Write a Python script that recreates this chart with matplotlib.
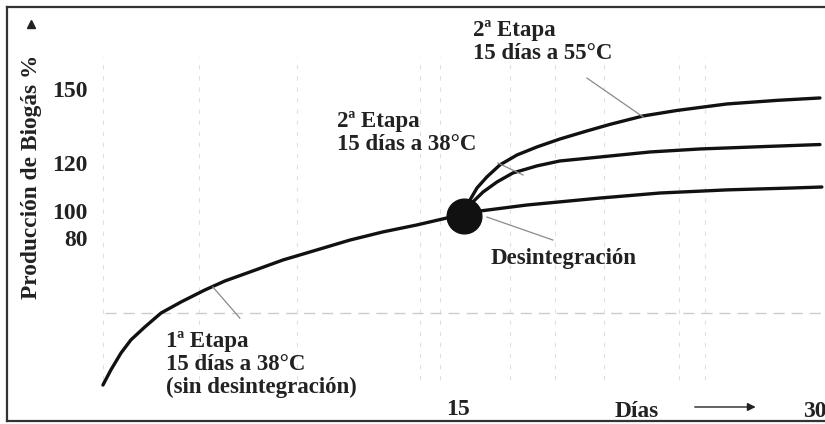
#!/usr/bin/env python3

import matplotlib as mpl
mpl.use('Agg')  # no display, just write the image
import matplotlib.pyplot as plt

#-----------------------------------------------------------------------------#
# Data (days, biogas production %)

# 1st stage, 15 days at 38 C, no disintegration
base_days = [0.0, 0.33, 0.75, 1.16, 1.74, 2.41, 3.24, 4.23, 5.06, 6.10,
             7.47, 8.88, 10.25, 11.62, 13.03, 14.27, 15.0]
base_prod = [27.9, 34.2, 41.25, 46.7, 52.1, 57.9, 62.5, 67.5, 71.25, 75.0,
             80.0, 84.2, 88.3, 91.7, 94.6, 97.5, 98.3]

# 2nd stage, 15 days at 55 C
hot_days = [15.0, 15.23, 15.52, 15.93, 16.47, 17.18, 18.01, 18.96, 20.08,
            21.04, 22.41, 23.82, 25.89, 27.97, 29.75]
hot_prod = [98.3, 105.0, 110.0, 114.6, 119.6, 123.75, 127.1, 130.4, 133.75,
            136.5, 140.0, 142.3, 145.0, 146.5, 147.5]

# 2nd stage, 15 days at 38 C
mid_days = [15.0, 15.35, 15.77, 16.35, 17.01, 18.01, 18.96, 20.62, 22.70,
            24.77, 27.55, 29.75]
mid_prod = [98.3, 104.2, 108.3, 112.5, 116.25, 119.2, 121.25, 122.9, 125.0,
            126.25, 127.3, 128.1]

# no disintegration, carried on
low_days = [15.0, 15.64, 17.59, 20.62, 23.11, 25.89, 28.63, 29.83]
low_prod = [98.3, 100.4, 102.9, 105.8, 107.9, 109.2, 110.0, 110.4]

# disintegration point
disint_day = 15.0
disint_prod = 98.3

ytick_labels = ['150', '120', '100', '80']
xtick_labels = ['15', '30']

#-----------------------------------------------------------------------------#


def plot(outputfile='out.png'):
	'''
	     Schematic of the two stage biogas production with a
	     disintegration step at day 15. Saved as an image.
	'''

	plt.rcParams['font.family'] = ['Liberation Serif', 'DejaVu Serif']
	plt.rcParams['font.weight'] = 'bold'

	fig = plt.figure(figsize=(8.25, 4.24), dpi=100)
	ax = fig.add_axes([0.0085, 0.007, 0.9915, 0.9765])
	ax.set_xlim(-3.98, 29.96)
	ax.set_ylim(12.9, 185.4)

	# frame like the scanned box, open on the right
	for side in ['top', 'left', 'bottom']:
		ax.spines[side].set_color('#333333')
		ax.spines[side].set_linewidth(1.6)
	ax.spines['right'].set_visible(False)
	ax.set_xticks([])
	ax.set_yticks([])

	# faint guide lines of the original drawing
	for d in [0.0, 4.0, 8.05, 13.15, 14.0, 16.9, 18.75, 20.8, 23.9, 25.0]:
		ax.axvline(d, ymin=0.1, ymax=0.88, color='#e0e0e0', lw=0.8,
		           ls=(0, (4, 6)), zorder=0)
	ax.axhline(57.9, xmin=0.12, color='#cccccc', lw=1.0, ls=(0, (8, 5)),
	           zorder=0)

	ink = '#111111'
	for xs, ys in [(base_days, base_prod), (hot_days, hot_prod),
	               (mid_days, mid_prod), (low_days, low_prod)]:
		ax.plot(xs, ys, color=ink, lw=2.4, solid_capstyle='round',
		        solid_joinstyle='round')
	ax.plot([disint_day], [disint_prod], 'o', color=ink, markersize=25,
	        zorder=5)

	# leader lines
	gray = '#8a8a8a'
	ax.plot([20.08, 22.41], [155.8, 139.6], color=gray, lw=0.9)
	ax.plot([16.39, 17.43], [120.4, 115.4], color=gray, lw=0.9)
	ax.plot([15.93, 18.67], [97.9, 88.3], color=gray, lw=0.9)
	ax.plot([4.56, 5.68], [68.75, 55.8], color=gray, lw=0.9)

	txt = '#222222'
	# tick labels written inside the box
	ylabel_pos = [150, 119.2, 99.2, 88.3]
	for lab, y in zip(ytick_labels, ylabel_pos):
		ax.text(-0.62, y, lab, ha='right', va='center', fontsize=17,
		        color=txt)
	ax.text(14.73, 17.5, xtick_labels[0], ha='center', va='center',
	        fontsize=17, color=txt)
	ax.text(29.05, 16.9, xtick_labels[1], ha='left', va='center',
	        fontsize=17, color=txt)

	ax.text(-2.95, 114.6, 'Producción de Biogás %', rotation=90,
	        ha='center', va='center', fontsize=16.8, color=txt)
	ax.plot([-2.99], [178.3], '^', color=txt, markersize=6)

	ax.text(21.24, 16.7, 'Días', ha='left', va='center', fontsize=16.8,
	        color=txt)
	ax.annotate('', xy=(27.2, 18.75), xytext=(24.44, 18.75),
	            arrowprops=dict(arrowstyle='-|>', color=txt, lw=1.0,
	                            mutation_scale=12))

	# stage notes
	note = dict(fontsize=16.5, color=txt, linespacing=1.12,
	            ha='left', va='top')
	ax.text(15.35, 180.0, '2ª Etapa\n15 días a 55°C', **note)
	ax.text(9.71, 142.0, '2ª Etapa\n15 días a 38°C', **note)
	ax.text(2.61, 50.4, '1ª Etapa\n15 días a 38°C\n(sin desintegración)',
	        **note)
	ax.text(16.1, 80.8, 'Desintegración', ha='left', va='center',
	        fontsize=16.5, color=txt)

	fig.savefig(outputfile, dpi=100)


#-----------------------------------------------------------------------------#


if __name__ == "__main__":
	plot()
